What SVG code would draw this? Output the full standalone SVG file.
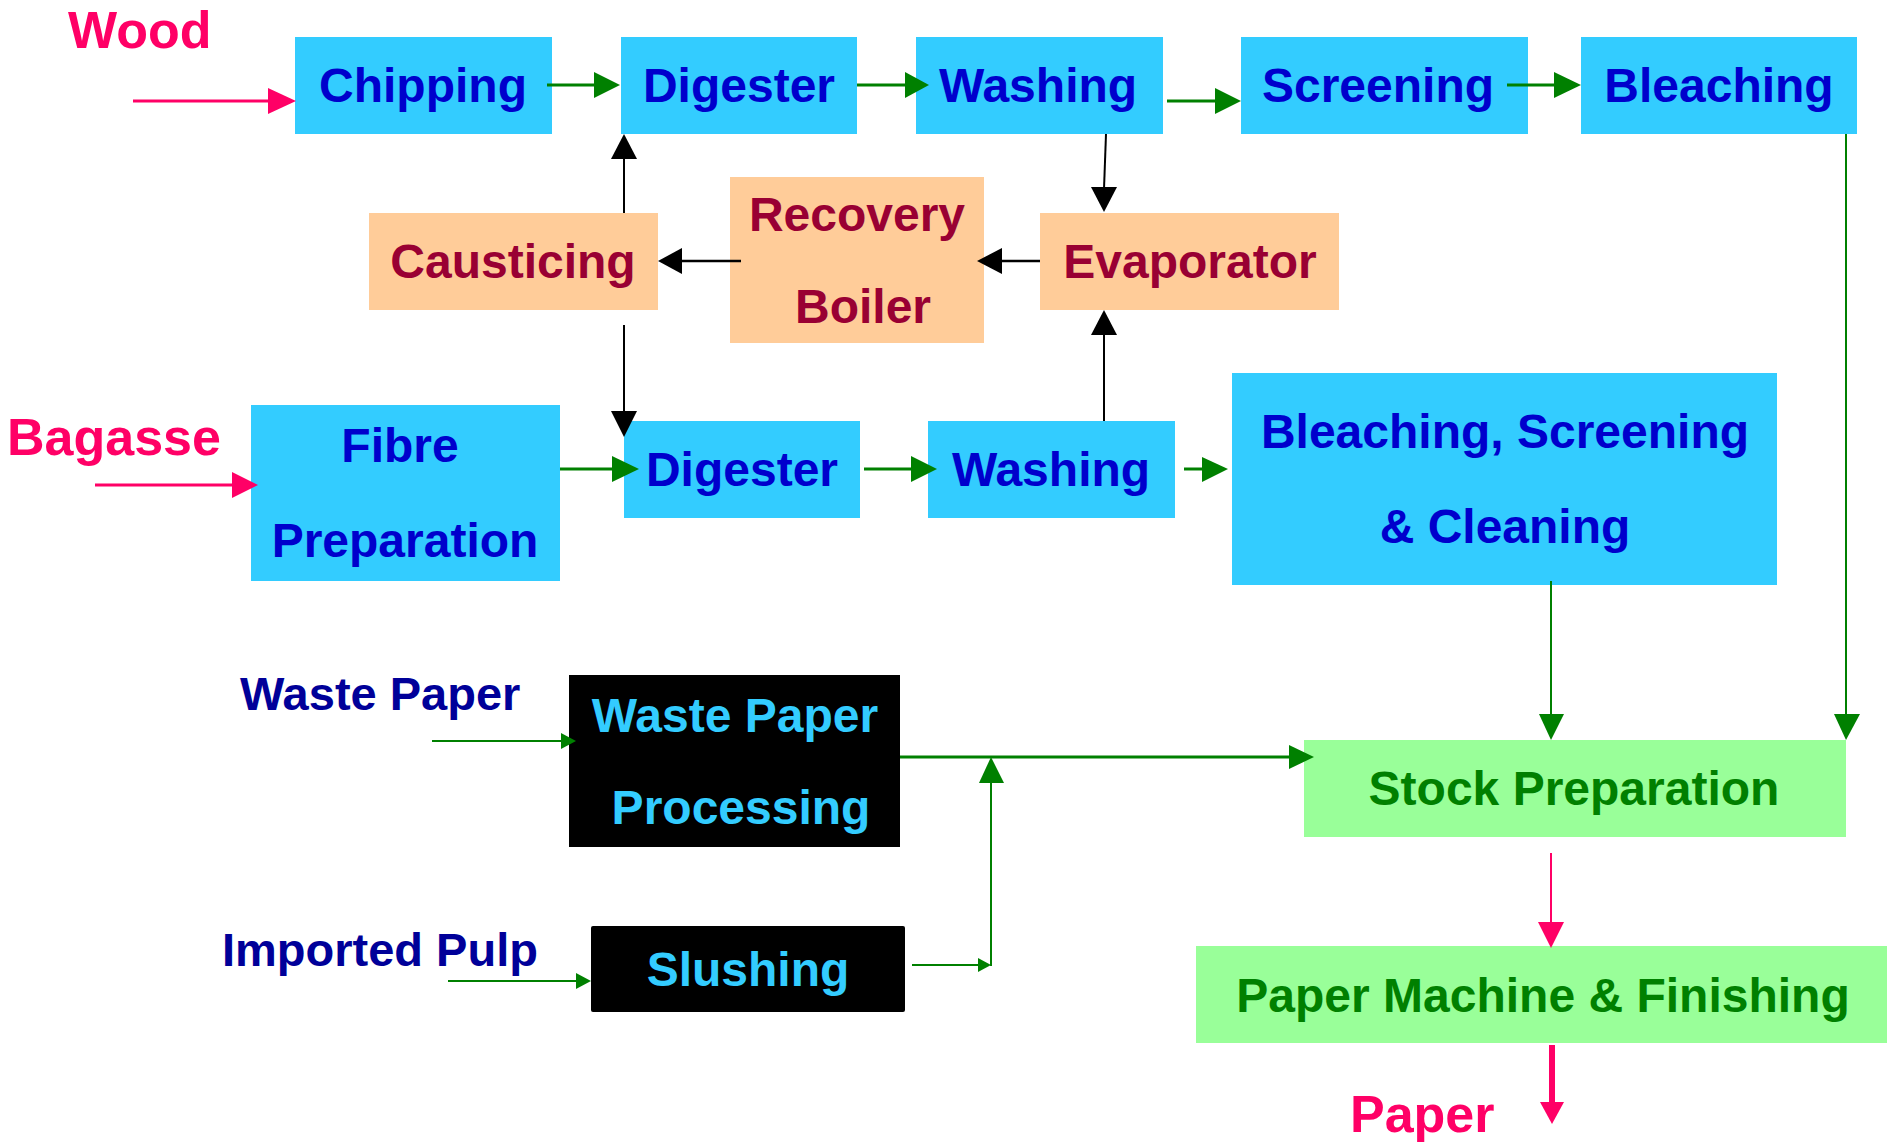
<svg xmlns="http://www.w3.org/2000/svg" width="1892" height="1142" viewBox="0 0 1892 1142">
<style>
text{font-family:"Liberation Sans",Arial,Helvetica,sans-serif;font-weight:bold;}
.cy{fill:#33CCFF;}
.pe{fill:#FFCC99;}
.gr{fill:#99FF99;}
.bk{fill:#000000;}
.tb{fill:#0000CC;font-size:48px;text-anchor:middle;}
.tr{fill:#990033;font-size:48px;text-anchor:middle;}
.tg{fill:#008000;font-size:48px;text-anchor:middle;}
.tc{fill:#33CCFF;font-size:48px;text-anchor:middle;}
.lp{fill:#FF0066;font-size:52px;}
.ln{fill:#000099;font-size:47px;}
.gl{stroke:#008000;stroke-width:3;fill:none;}
.gl2{stroke:#008000;stroke-width:2;fill:none;}
.bl{stroke:#000000;stroke-width:2.5;fill:none;}
.pl{stroke:#FF0066;stroke-width:3;fill:none;}
.ga{fill:#008000;}
.ba{fill:#000000;}
.pa{fill:#FF0066;}
</style>

<g id="label-wood"><text class="lp" x="68" y="48">Wood</text></g>
<g id="label-bagasse"><text class="lp" x="7" y="455">Bagasse</text></g>
<g id="label-wastepaper"><text class="ln" x="240" y="710">Waste Paper</text></g>
<g id="label-importedpulp"><text class="ln" x="222" y="966">Imported Pulp</text></g>
<g id="label-paper"><text class="lp" x="1350" y="1132">Paper</text></g>

<g id="chipping"><rect class="cy" x="295" y="37" width="257" height="97"/><text class="tb" x="423" y="102">Chipping</text></g>
<g id="digester1"><rect class="cy" x="621" y="37" width="236" height="97"/><text class="tb" x="739" y="102">Digester</text></g>
<g id="washing1"><rect class="cy" x="916" y="37" width="247" height="97"/><text class="tb" x="1038" y="102">Washing</text></g>
<g id="screening"><rect class="cy" x="1241" y="37" width="287" height="97"/><text class="tb" x="1378" y="102">Screening</text></g>
<g id="bleaching"><rect class="cy" x="1581" y="37" width="276" height="97"/><text class="tb" x="1719" y="102">Bleaching</text></g>

<g id="causticing"><rect class="pe" x="369" y="213" width="289" height="97"/><text class="tr" x="513" y="278">Causticing</text></g>
<g id="recovery-boiler"><rect class="pe" x="730" y="177" width="254" height="166"/><text class="tr" x="857" y="231">Recovery</text><text class="tr" x="863" y="323">Boiler</text></g>
<g id="evaporator"><rect class="pe" x="1040" y="213" width="299" height="97"/><text class="tr" x="1190" y="278">Evaporator</text></g>

<g id="fibre-preparation"><rect class="cy" x="251" y="405" width="309" height="176"/><text class="tb" x="400" y="462">Fibre</text><text class="tb" x="405" y="557">Preparation</text></g>
<g id="digester2"><rect class="cy" x="624" y="421" width="236" height="97"/><text class="tb" x="742" y="486">Digester</text></g>
<g id="washing2"><rect class="cy" x="928" y="421" width="247" height="97"/><text class="tb" x="1051" y="486">Washing</text></g>
<g id="bleaching-screening-cleaning"><rect class="cy" x="1232" y="373" width="545" height="212"/><text class="tb" x="1505" y="448">Bleaching, Screening</text><text class="tb" x="1505" y="543">&amp; Cleaning</text></g>

<g id="waste-paper-processing"><rect class="bk" x="569" y="675" width="331" height="172"/><text class="tc" x="735" y="732">Waste Paper</text><text class="tc" x="741" y="824">Processing</text></g>
<g id="slushing"><rect class="bk" x="591" y="926" width="314" height="86" rx="2"/><text class="tc" x="748" y="986">Slushing</text></g>
<g id="stock-preparation"><rect class="gr" x="1304" y="740" width="542" height="97"/><text class="tg" x="1574" y="805">Stock Preparation</text></g>
<g id="paper-machine"><rect class="gr" x="1196" y="946" width="691" height="97"/><text class="tg" x="1543" y="1012">Paper Machine &amp; Finishing</text></g>

<g id="connectors">
  <!-- pink -->
  <line class="pl" x1="133" y1="101" x2="270" y2="101"/><polygon class="pa" points="268,88 296,101 268,114"/>
  <line class="pl" x1="95" y1="485" x2="234" y2="485"/><polygon class="pa" points="232,472 258,485 232,498"/>
  <line class="pl" x1="1551" y1="853" x2="1551" y2="924" style="stroke-width:2"/><polygon class="pa" points="1538,922 1564,922 1551,948"/>
  <line class="pl" x1="1552" y1="1045" x2="1552" y2="1104" style="stroke-width:6"/><polygon class="pa" points="1540,1102 1564,1102 1552,1124"/>

  <!-- green top row -->
  <line class="gl" x1="547" y1="85" x2="596" y2="85"/><polygon class="ga" points="594,72 620,85 594,98"/>
  <line class="gl" x1="857" y1="85" x2="907" y2="85"/><polygon class="ga" points="905,72 929,85 905,98"/>
  <line class="gl" x1="1167" y1="101" x2="1217" y2="101"/><polygon class="ga" points="1215,88 1241,101 1215,114"/>
  <line class="gl" x1="1507" y1="85" x2="1556" y2="85"/><polygon class="ga" points="1554,72 1581,85 1554,98"/>
  <line class="gl2" x1="1846" y1="134" x2="1846" y2="716"/><polygon class="ga" points="1834,714 1860,714 1846,740"/>

  <!-- green middle row -->
  <line class="gl" x1="560" y1="469" x2="614" y2="469"/><polygon class="ga" points="612,456 639,469 612,482"/>
  <line class="gl" x1="864" y1="469" x2="913" y2="469"/><polygon class="ga" points="911,456 937,469 911,482"/>
  <line class="gl" x1="1184" y1="469" x2="1204" y2="469"/><polygon class="ga" points="1202,457 1228,469 1202,482"/>
  <line class="gl2" x1="1551" y1="581" x2="1551" y2="716"/><polygon class="ga" points="1539,714 1564,714 1551,740"/>

  <!-- green bottom -->
  <line class="gl2" x1="432" y1="741" x2="563" y2="741"/><polygon class="ga" points="561,733 576,741 561,749"/>
  <line class="gl" x1="900" y1="757" x2="1291" y2="757"/><polygon class="ga" points="1289,745 1314,757 1289,769"/>
  <line class="gl2" x1="448" y1="981" x2="578" y2="981"/><polygon class="ga" points="576,973 591,981 576,989"/>
  <line class="gl2" x1="912" y1="965" x2="981" y2="965"/><polygon class="ga" points="978,958 991,965 978,972"/>
  <line class="gl2" x1="991" y1="966" x2="991" y2="781"/><polygon class="ga" points="979,783 1004,783 991,757"/>

  <!-- black recovery loop -->
  <line class="bl" x1="624" y1="213" x2="624" y2="157" style="stroke-width:2"/><polygon class="ba" points="611,159 637,159 624,134"/>
  <line class="bl" x1="624" y1="325" x2="624" y2="413" style="stroke-width:2"/><polygon class="ba" points="611,411 637,411 624,437"/>
  <line class="bl" x1="741" y1="261" x2="680" y2="261"/><polygon class="ba" points="682,248 682,274 658,261"/>
  <line class="bl" x1="1040" y1="261" x2="1000" y2="261"/><polygon class="ba" points="1002,248 1002,274 977,261"/>
  <line class="bl" x1="1106" y1="134" x2="1104" y2="189" style="stroke-width:2"/><polygon class="ba" points="1091,187 1117,187 1104,212"/>
  <line class="bl" x1="1104" y1="421" x2="1104" y2="333" style="stroke-width:2"/><polygon class="ba" points="1091,335 1117,335 1104,310"/>
</g>
</svg>
